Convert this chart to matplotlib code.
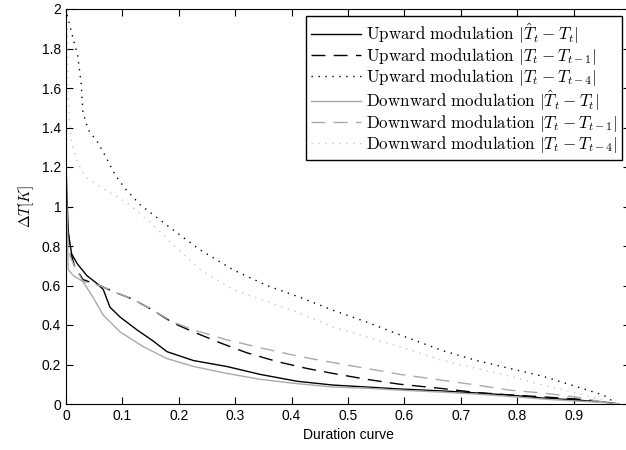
import numpy as np
import matplotlib
matplotlib.use('Agg')
import matplotlib.pyplot as plt

plt.rcParams['mathtext.fontset'] = 'cm'
plt.rcParams['font.family'] = ['Liberation Sans', 'DejaVu Sans']

# duration curves
up_est_x = [0, 0.002, 0.004, 0.01, 0.02, 0.037, 0.055, 0.066, 0.078, 0.096, 0.126, 0.154, 0.179,
            0.226, 0.285, 0.344, 0.41, 0.473, 0.533, 0.592, 0.668, 0.728, 0.787, 0.846, 0.905, 0.953, 0.98]
up_est_y = [1.2, 1.03, 0.87, 0.76, 0.71, 0.65, 0.61, 0.58, 0.49, 0.44, 0.375, 0.32, 0.265,
            0.22, 0.19, 0.15, 0.115, 0.096, 0.086, 0.076, 0.066, 0.056, 0.045, 0.03, 0.02, 0.01, 0.0]

up_lag1_x = [0, 0.003, 0.007, 0.015, 0.03, 0.06, 0.083, 0.119, 0.154, 0.19, 0.226, 0.273, 0.32,
             0.374, 0.427, 0.473, 0.533, 0.592, 0.668, 0.728, 0.787, 0.846, 0.905, 0.953, 0.98]
up_lag1_y = [1.1, 0.9, 0.78, 0.70, 0.63, 0.6, 0.57, 0.53, 0.475, 0.41, 0.365, 0.31, 0.26,
             0.215, 0.18, 0.155, 0.125, 0.1, 0.078, 0.058, 0.046, 0.036, 0.025, 0.01, 0.0]

up_lag4_x = [0.002, 0.01, 0.021, 0.027, 0.03, 0.039, 0.055, 0.069, 0.087, 0.105, 0.131, 0.163, 0.2,
             0.238, 0.296, 0.356, 0.415, 0.473, 0.533, 0.592, 0.668, 0.728, 0.787, 0.846, 0.905, 0.953, 0.977]
up_lag4_y = [1.97, 1.88, 1.76, 1.62, 1.48, 1.39, 1.33, 1.26, 1.16, 1.09, 1.01, 0.94, 0.86,
             0.78, 0.68, 0.60, 0.54, 0.475, 0.415, 0.35, 0.27, 0.22, 0.18, 0.14, 0.088, 0.045, 0.0]

down_est_x = [0, 0.002, 0.004, 0.013, 0.03, 0.048, 0.066, 0.096, 0.137, 0.179, 0.226, 0.285, 0.344,
              0.403, 0.473, 0.533, 0.592, 0.668, 0.728, 0.787, 0.846, 0.905, 0.953, 0.98]
down_est_y = [1.28, 0.9, 0.68, 0.65, 0.62, 0.54, 0.45, 0.365, 0.29, 0.23, 0.19, 0.155, 0.125,
              0.105, 0.086, 0.08, 0.07, 0.06, 0.05, 0.038, 0.025, 0.015, 0.008, 0.0]

down_lag1_x = [0, 0.003, 0.007, 0.013, 0.03, 0.06, 0.083, 0.119, 0.154, 0.19, 0.226, 0.285, 0.344,
               0.415, 0.473, 0.533, 0.592, 0.668, 0.728, 0.787, 0.846, 0.905, 0.953, 0.98]
down_lag1_y = [1.1, 0.85, 0.75, 0.71, 0.62, 0.6, 0.57, 0.53, 0.475, 0.415, 0.375, 0.325, 0.285,
               0.24, 0.21, 0.18, 0.15, 0.12, 0.096, 0.07, 0.055, 0.035, 0.01, 0.0]

down_lag4_x = [0.002, 0.004, 0.006, 0.01, 0.021, 0.034, 0.066, 0.108, 0.149, 0.196, 0.238, 0.296,
               0.356, 0.415, 0.473, 0.533, 0.592, 0.668, 0.728, 0.787, 0.846, 0.905, 0.953, 0.975]
down_lag4_y = [1.9, 1.6, 1.45, 1.32, 1.22, 1.15, 1.09, 1.02, 0.92, 0.79, 0.68, 0.58,
               0.52, 0.46, 0.39, 0.34, 0.29, 0.22, 0.18, 0.14, 0.096, 0.056, 0.02, 0.0]

labels = [r'$\mathrm{Upward\ modulation}\ |\hat{T}_t - T_t|$',
          r'$\mathrm{Upward\ modulation}\ |T_t - T_{t-1}|$',
          r'$\mathrm{Upward\ modulation}\ |T_t - T_{t-4}|$',
          r'$\mathrm{Downward\ modulation}\ |\hat{T}_t - T_t|$',
          r'$\mathrm{Downward\ modulation}\ |T_t - T_{t-1}|$',
          r'$\mathrm{Downward\ modulation}\ |T_t - T_{t-4}|$']

fig = plt.figure(figsize=(6.26, 4.5), dpi=100)
ax = fig.add_axes([66 / 626, 46 / 450, 564 / 626, 395 / 450])

dash = (0, (10, 6))
dot = (0, (1, 4))
ax.plot(up_est_x, up_est_y, color='k', lw=1.0, label=labels[0])
ax.plot(up_lag1_x, up_lag1_y, color='k', lw=1.0, linestyle=dash, label=labels[1])
ax.plot(up_lag4_x, up_lag4_y, color='k', lw=1.0, linestyle=dot, label=labels[2])
ax.plot(down_est_x, down_est_y, color='#aaaaaa', lw=1.0, label=labels[3])
ax.plot(down_lag1_x, down_lag1_y, color='#aaaaaa', lw=1.0, linestyle=dash, label=labels[4])
ax.plot(down_lag4_x, down_lag4_y, color='#c8c8c8', lw=1.0, linestyle=dot, label=labels[5])

ax.set_xlim(0, 1)
ax.set_ylim(0, 2)
ax.set_xticks(np.arange(0, 1.01, 0.1))
ax.set_xticklabels(['0', '0.1', '0.2', '0.3', '0.4', '0.5', '0.6', '0.7', '0.8', '0.9', '1'])
ax.set_yticks(np.arange(0, 2.01, 0.2))
ax.set_yticklabels(['0', '0.2', '0.4', '0.6', '0.8', '1', '1.2', '1.4', '1.6', '1.8', '2'])
ax.tick_params(direction='in', top=True, right=True, labelsize=10, length=5)
ax.set_xlabel('Duration curve', fontsize=10)
ax.set_ylabel(r'$\Delta T[K]$', fontsize=11)

leg = ax.legend(loc='upper right', bbox_to_anchor=(0.986, 0.982), fontsize=12.2, fancybox=False,
                edgecolor='k', framealpha=1, handlelength=2.9, handletextpad=0.3,
                borderaxespad=0, borderpad=0.3, labelspacing=0.0)
leg.get_frame().set_linewidth(1.0)

plt.savefig('out.png', dpi=100)
